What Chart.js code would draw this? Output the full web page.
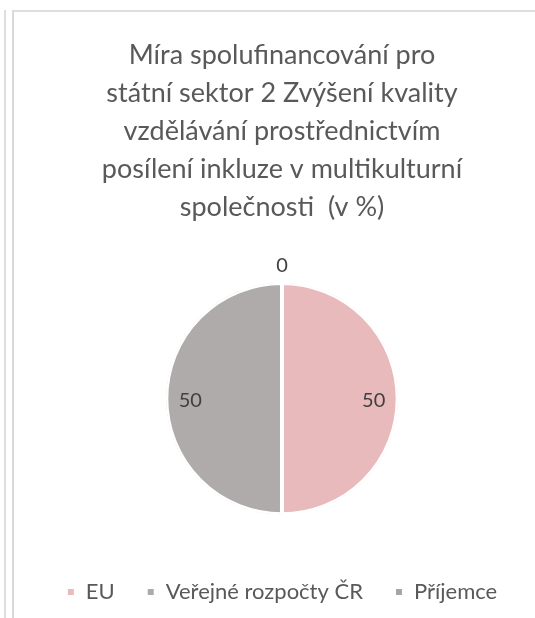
<!DOCTYPE html>
<html>
<head>
<meta charset="utf-8">
<script src="https://cdn.jsdelivr.net/npm/chart.js@4"></script>
<style>
  html, body { margin: 0; padding: 0; background: #fff; overflow: hidden; }
  body { width: 535px; height: 618px; position: relative; }
  #outer { position: absolute; left: 4px; top: 10px; width: 2px; height: 610px; background: #dedede; }
  #frame { position: absolute; left: 12px; top: 10px; width: 540px; height: 610px;
           border-left: 2px solid #d9d9d9; border-top: 2px solid #dedede; }
  #wrap { position: absolute; left: 14px; top: 0; width: 536px; height: 618px; }
</style>
</head>
<body>
<div id="outer"></div>
<div id="frame"></div>
<div id="wrap"><canvas id="chart" width="536" height="618"></canvas></div>
<script>
var titleLines = ["Míra spolufinancování pro", "státní sektor 2 Zvýšení kvality", "vzdělávání prostřednictvím", "posílení inkluze v multikulturní", "společnosti  (v %)"];
var categories = ["EU", "Veřejné rozpočty ČR", "Příjemce"];
var values = [50, 50, 0];
var colors = ["#e8babb", "#afabab", "#a5a5a5"];

// value labels, like the office data labels
var labelPlugin = {
  id: "valueLabels",
  afterDatasetsDraw: function(chart) {
    var ctx = chart.ctx;
    var meta = chart.getDatasetMeta(0);
    ctx.save();
    ctx.font = "20px Lato";
    ctx.fillStyle = "#404040";
    ctx.textAlign = "center";
    ctx.textBaseline = "middle";
    meta.data.forEach(function(arc, i) {
      var p = arc.getProps(["x", "y", "startAngle", "endAngle", "outerRadius"], true);
      var a = (p.startAngle + p.endAngle) / 2;
      var r = values[i] > 0 ? p.outerRadius * 0.79 : p.outerRadius + 19;
      ctx.fillText(String(values[i]), p.x + Math.cos(a) * r, p.y + Math.sin(a) * r + 2);
    });
    ctx.restore();
  }
};

new Chart(document.getElementById("chart"), {
  type: "pie",
  data: {
    labels: categories,
    datasets: [{
      data: values,
      backgroundColor: colors,
      borderColor: "#ffffff",
      borderWidth: 2,
      borderAlign: "inner"
    }]
  },
  options: {
    responsive: false,
    animation: false,
    radius: 116,
    layout: { padding: { top: 0, bottom: 5, left: 0, right: 0 } },
    plugins: {
      title: {
        display: true,
        text: titleLines,
        color: "#595959",
        font: { family: "Lato", size: 27, weight: "normal", lineHeight: 1.41 },
        padding: { top: 36, bottom: 22 }
      },
      legend: {
        display: true,
        position: "bottom",
        labels: {
          color: "#595959",
          font: { family: "Lato", size: 22 },
          boxWidth: 8,
          boxHeight: 8,
          padding: 32
        }
      },
      tooltip: { enabled: false }
    }
  },
  plugins: [labelPlugin]
});
</script>
</body>
</html>
